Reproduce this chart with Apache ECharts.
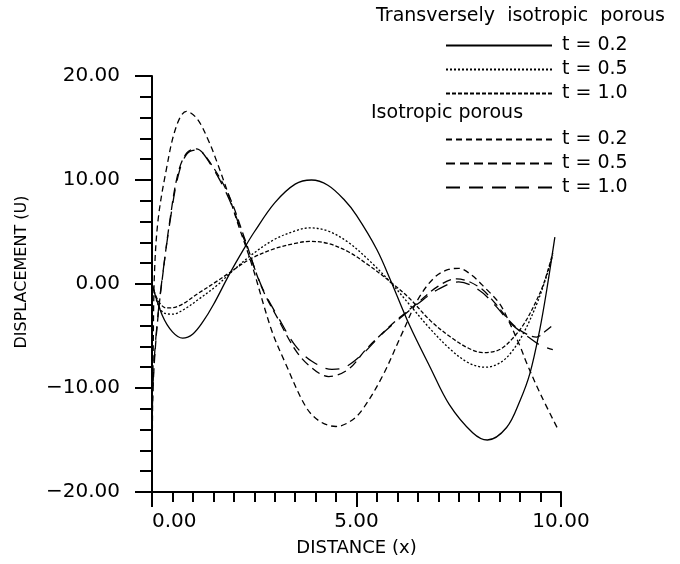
<!DOCTYPE html>
<html>
<head>
<meta charset="utf-8">
<script src="https://cdn.jsdelivr.net/npm/echarts@6/dist/echarts.min.js"></script>
<style>
  html, body { margin: 0; padding: 0; background: #fff; }
  #chart { width: 680px; height: 564px; }
</style>
</head>
<body>
<div id="chart"></div>
<script>
// [distance, displacement]
const tiT02 = [[0,0],[0.25,-3.0],[0.5,-4.6],[0.75,-5.2],[1.0,-4.8],[1.25,-3.6],[1.5,-2.0],[1.9,1.0],[2.25,3.4],[2.5,5.0],[3.0,7.8],[3.5,9.6],[3.9,10.0],[4.3,9.5],[4.7,8.1],[5.0,6.6],[5.5,3.3],[5.85,0.2],[6.3,-4.0],[6.8,-8.0],[7.27,-11.6],[7.84,-14.3],[8.2,-15.0],[8.67,-13.8],[9.0,-11.2],[9.24,-8.6],[9.48,-4.4],[9.65,-0.6],[9.85,4.5]];
const tiT05 = [[0,0],[0.15,-2.0],[0.3,-2.8],[0.5,-2.9],[0.8,-2.4],[1.13,-1.5],[1.6,-0.1],[1.9,1.0],[2.4,2.7],[3.0,4.3],[3.5,5.1],[3.85,5.4],[4.3,5.1],[4.8,4.0],[5.3,2.3],[5.8,0.3],[6.3,-2.0],[6.8,-4.3],[7.3,-6.3],[7.75,-7.6],[8.15,-8.0],[8.5,-7.6],[8.8,-6.5],[9.1,-4.6],[9.4,-2.0],[9.6,0.2],[9.8,2.8]];
const tiT10 = [[0,0],[0.15,-1.6],[0.35,-2.3],[0.6,-2.2],[1.13,-0.9],[1.6,0.3],[1.9,1.1],[2.4,2.4],[3.0,3.4],[3.5,3.9],[3.85,4.1],[4.3,3.9],[4.8,3.1],[5.3,1.8],[5.8,0.3],[6.3,-1.4],[6.8,-3.5],[7.3,-5.1],[7.75,-6.2],[8.1,-6.6],[8.5,-6.3],[8.8,-5.3],[9.1,-3.8],[9.4,-1.6],[9.6,0.3],[9.8,3.0]];
const isoT02 = [[0,-18],[0.03,-6],[0.06,1.0],[0.15,6.2],[0.35,11.0],[0.59,15.1],[0.84,16.6],[1.1,15.9],[1.38,13.8],[1.6,11.6],[1.87,8.6],[2.1,5.8],[2.43,2.0],[2.92,-4.4],[3.26,-7.6],[3.76,-11.8],[4.1,-13.2],[4.5,-13.7],[4.85,-13.2],[5.14,-12.1],[5.63,-8.9],[6.12,-4.7],[6.5,-1.5],[6.9,0.6],[7.25,1.4],[7.5,1.5],[7.8,0.9],[8.15,-0.4],[8.5,-1.9],[8.75,-3.8],[9.0,-6.0],[9.16,-7.6],[9.5,-10.6],[9.93,-14.0]];
const isoT05 = [[0,-13],[0.05,-8],[0.15,-3],[0.27,1.1],[0.44,6.2],[0.64,10.7],[0.85,12.6],[1.08,13.0],[1.38,11.9],[1.87,8.6],[2.28,4.2],[2.68,-0.3],[3.1,-3.5],[3.5,-6.3],[3.83,-7.8],[4.32,-8.9],[4.8,-8.2],[5.23,-6.3],[5.72,-4.4],[6.0,-3.4],[6.5,-1.8],[7.0,-0.2],[7.45,0.5],[8.0,-0.3],[8.4,-1.9],[8.8,-3.8],[9.1,-4.7],[9.4,-5.1],[9.6,-4.6],[9.85,-3.8]];
const isoT10 = [[0,-12],[0.05,-7.5],[0.15,-2.8],[0.27,1.2],[0.44,6.0],[0.64,10.4],[0.85,12.5],[1.1,12.9],[1.4,11.7],[1.87,8.3],[2.28,4.0],[2.7,-0.4],[3.1,-3.3],[3.5,-5.9],[3.9,-7.4],[4.4,-8.2],[4.65,-8.1],[5.1,-6.9],[5.6,-4.9],[6.0,-3.5],[6.5,-1.9],[7.0,-0.5],[7.5,0.2],[8.0,-0.6],[8.4,-2.1],[8.8,-3.9],[9.2,-5.1],[9.5,-5.9],[9.8,-6.3]];

const tiNames = ['TI t = 0.2', 'TI t = 0.5', 'TI t = 1.0'];
const isoNames = ['Iso t = 0.2', 'Iso t = 0.5', 'Iso t = 1.0'];
const groupTitles = ['Transversely  isotropic  porous', 'Isotropic porous'];

const font = 'DejaVu Sans';
const chart = echarts.init(document.getElementById('chart'));

let makeLine = (name, data, dash) => ({
    name: name,
    type: 'line',
    data: data,
    smooth: 0.35,
    symbol: 'none',
    itemStyle: { color: '#000' },
    lineStyle: { color: '#000', width: 1.3, type: dash }
});

let tickLabel = v => (v < 0 ? '\u2212' : '') + Math.abs(v).toFixed(2);
let legendLabel = name => name.replace(/^(TI|Iso) /, '');

let legendBase = {
    orient: 'vertical',
    left: 440,
    itemWidth: 106,
    itemHeight: 14,
    itemGap: 5,
    selectedMode: false,
    formatter: legendLabel,
    itemStyle: { opacity: 0 },
    textStyle: { fontFamily: font, fontSize: 19, color: '#000', lineHeight: 18, padding: [0, 0, 0, 5] }
};

let titleStyle = { fontFamily: font, fontSize: 19, fontWeight: 'normal', color: '#000' };

let option = {
    animation: false,
    backgroundColor: '#fff',
    title: [
        { text: groupTitles[0], left: 371, top: 2, textStyle: titleStyle },
        { text: groupTitles[1], left: 366, top: 99, textStyle: titleStyle }
    ],
    legend: [
        Object.assign({}, legendBase, { data: tiNames, top: 31 }),
        Object.assign({}, legendBase, { data: isoNames, top: 125 })
    ],
    grid: { left: 152, right: 119, top: 76, bottom: 72 },
    xAxis: {
        type: 'value',
        min: 0,
        max: 10,
        interval: 5,
        name: 'DISTANCE (x)',
        nameLocation: 'middle',
        nameGap: 47,
        nameTextStyle: { fontFamily: font, fontSize: 18, color: '#000' },
        axisLine: { onZero: false, lineStyle: { color: '#000', width: 2 } },
        axisTick: { show: true, length: 15, lineStyle: { color: '#000', width: 2 } },
        minorTick: { show: true, splitNumber: 10, length: 10, lineStyle: { color: '#000', width: 2 } },
        splitLine: { show: false },
        axisLabel: { margin: 20, fontFamily: font, fontSize: 20, color: '#000', formatter: tickLabel, alignMinLabel: 'left' }
    },
    yAxis: {
        type: 'value',
        min: -20,
        max: 20,
        interval: 10,
        name: 'DISPLACEMENT (U)',
        nameLocation: 'middle',
        nameGap: 122,
        nameTextStyle: { fontFamily: font, fontSize: 16, color: '#000', padding: [0, 0, 0, 24] },
        axisLine: { lineStyle: { color: '#000', width: 2 } },
        axisTick: { show: true, length: 17, lineStyle: { color: '#000', width: 2 } },
        minorTick: { show: true, splitNumber: 5, length: 12, lineStyle: { color: '#000', width: 2 } },
        splitLine: { show: false },
        axisLabel: { margin: 32, fontFamily: font, fontSize: 20, color: '#000', formatter: tickLabel }
    },
    series: [
        makeLine(tiNames[0], tiT02, 'solid'),
        makeLine(tiNames[1], tiT05, [2, 2]),
        makeLine(tiNames[2], tiT10, [4, 2]),
        makeLine(isoNames[0], isoT02, [6, 4]),
        makeLine(isoNames[1], isoT05, [9, 5]),
        makeLine(isoNames[2], isoT10, [14, 9])
    ]
};

chart.setOption(option);
</script>
</body>
</html>
